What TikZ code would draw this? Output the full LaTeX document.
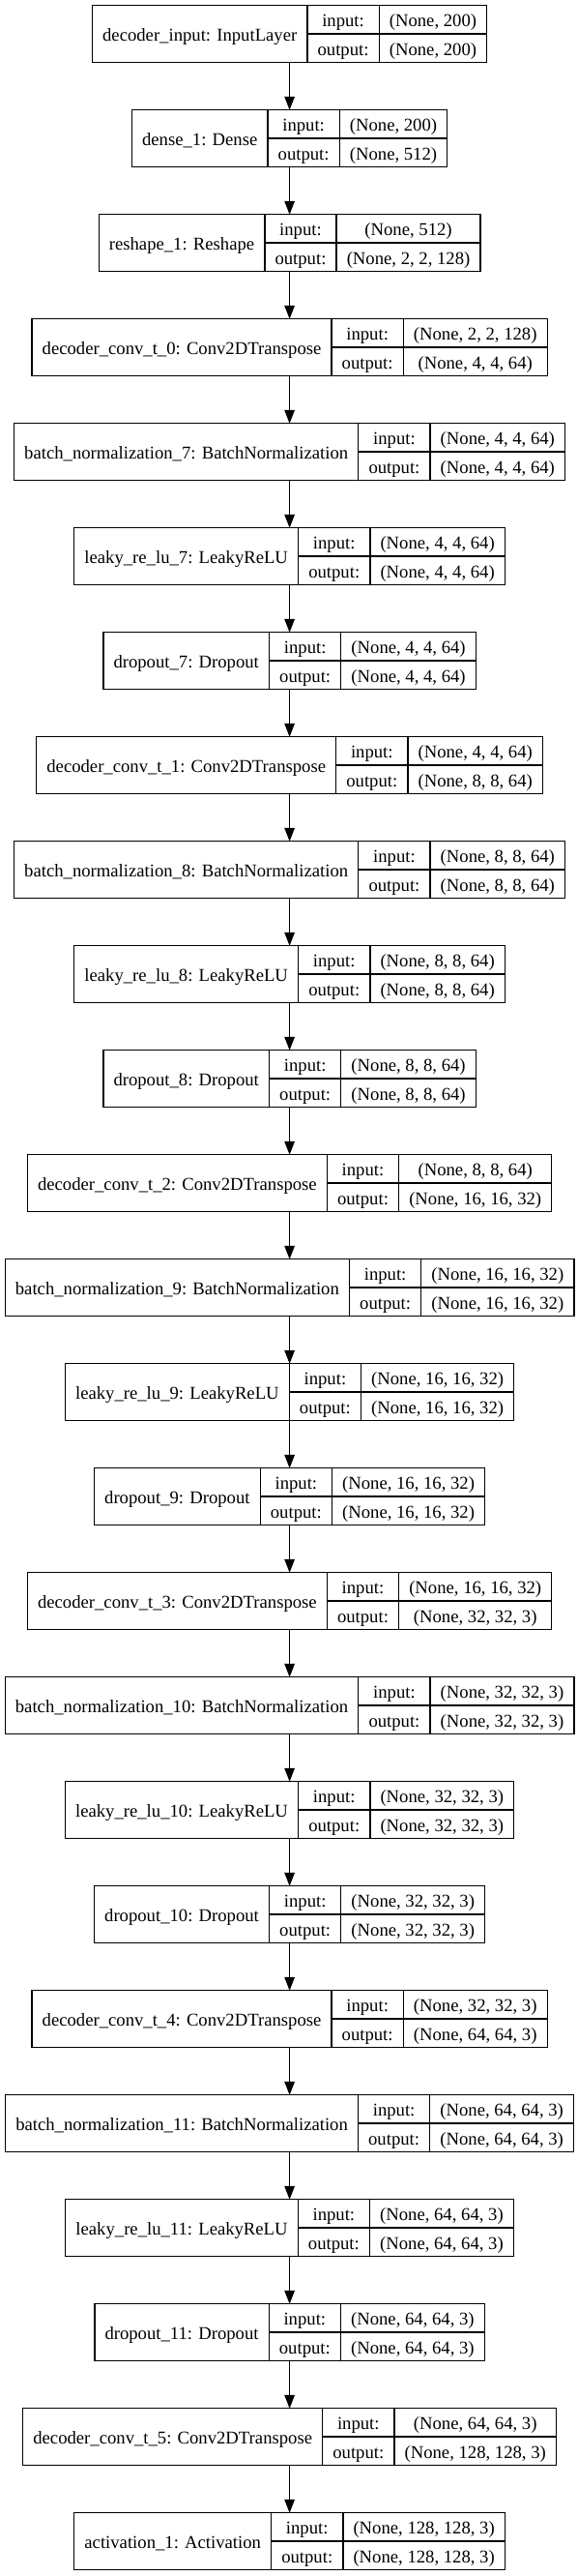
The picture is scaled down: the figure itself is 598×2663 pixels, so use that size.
\documentclass[tikz,border=0pt]{standalone}
\usepackage{fontspec}
\setmainfont{Liberation Serif}
\usepackage{tikz}
\usetikzlibrary{arrows.meta,positioning}

\newlength\lblw
\newlength\midw
\newlength\valw
\newlength\tmpw
\let\realselectfont\selectfont
\newcommand\cellfont{\fontsize{18.67bp}{22bp}\realselectfont}

\tikzset{
  layerbox/.style={anchor=north,inner sep=0pt,outer sep=0pt,minimum height=58.6bp},
  cellbox/.style={draw=black,line width=1.3bp,anchor=north west,inner sep=0pt,
                  outer sep=0pt,minimum height=29.3bp,text height=17bp,
                  text depth=2bp,font=\cellfont}
}

% text width, measured outside the picture's null font
\newcommand\getwidth[2]{%
  \pgfinterruptpicture\settowidth\tmpw{\cellfont #2}\global#1=\tmpw\endpgfinterruptpicture}

% one keras layer: name, top, label, input shape, output shape
\newcommand\layer[5]{%
  \getwidth\lblw{#3}\addtolength\lblw{21.33bp}%
  \getwidth\midw{output:}\addtolength\midw{21.33bp}%
  \getwidth\valw{#4}\getwidth\tmpw{#5}%
  \ifdim\tmpw>\valw\setlength\valw{\tmpw}\fi
  \addtolength\valw{21.33bp}%
  \node[layerbox,minimum width=\lblw+\midw+\valw] (#1) at (299.6,#2) {};
  \node[cellbox,minimum width=\lblw,minimum height=58.6bp] (#1-name) at (#1.north west) {#3};
  \node[cellbox,minimum width=\midw] (#1-inlbl) at (#1-name.north east) {input:};
  \node[cellbox,minimum width=\midw] (#1-outlbl) at (#1-inlbl.south west) {output:};
  \node[cellbox,minimum width=\valw] (#1-in) at (#1-inlbl.north east) {#4};
  \node[cellbox,minimum width=\valw] (#1-out) at (#1-in.south west) {#5};
}

\begin{document}
\begin{tikzpicture}[x=1bp,y=-1bp]
  \fill[white] (0,0) rectangle (598,2663);
  \useasboundingbox (0,0) rectangle (598,2663);

  \layer{input}{5.8}{decoder\_input: InputLayer}{(None, 200)}{(None, 200)}
  \layer{dense1}{113.8}{dense\_1: Dense}{(None, 200)}{(None, 512)}
  \layer{reshape1}{221.8}{reshape\_1: Reshape}{(None, 512)}{(None, 2, 2, 128)}
  \layer{convt0}{329.8}{decoder\_conv\_t\_0: Conv2DTranspose}{(None, 2, 2, 128)}{(None, 4, 4, 64)}
  \layer{bn7}{437.8}{batch\_normalization\_7: BatchNormalization}{(None, 4, 4, 64)}{(None, 4, 4, 64)}
  \layer{lrelu7}{545.8}{leaky\_re\_lu\_7: LeakyReLU}{(None, 4, 4, 64)}{(None, 4, 4, 64)}
  \layer{drop7}{653.8}{dropout\_7: Dropout}{(None, 4, 4, 64)}{(None, 4, 4, 64)}
  \layer{convt1}{761.8}{decoder\_conv\_t\_1: Conv2DTranspose}{(None, 4, 4, 64)}{(None, 8, 8, 64)}
  \layer{bn8}{869.8}{batch\_normalization\_8: BatchNormalization}{(None, 8, 8, 64)}{(None, 8, 8, 64)}
  \layer{lrelu8}{977.8}{leaky\_re\_lu\_8: LeakyReLU}{(None, 8, 8, 64)}{(None, 8, 8, 64)}
  \layer{drop8}{1085.8}{dropout\_8: Dropout}{(None, 8, 8, 64)}{(None, 8, 8, 64)}
  \layer{convt2}{1193.8}{decoder\_conv\_t\_2: Conv2DTranspose}{(None, 8, 8, 64)}{(None, 16, 16, 32)}
  \layer{bn9}{1301.8}{batch\_normalization\_9: BatchNormalization}{(None, 16, 16, 32)}{(None, 16, 16, 32)}
  \layer{lrelu9}{1409.8}{leaky\_re\_lu\_9: LeakyReLU}{(None, 16, 16, 32)}{(None, 16, 16, 32)}
  \layer{drop9}{1517.8}{dropout\_9: Dropout}{(None, 16, 16, 32)}{(None, 16, 16, 32)}
  \layer{convt3}{1625.8}{decoder\_conv\_t\_3: Conv2DTranspose}{(None, 16, 16, 32)}{(None, 32, 32, 3)}
  \layer{bn10}{1733.8}{batch\_normalization\_10: BatchNormalization}{(None, 32, 32, 3)}{(None, 32, 32, 3)}
  \layer{lrelu10}{1841.8}{leaky\_re\_lu\_10: LeakyReLU}{(None, 32, 32, 3)}{(None, 32, 32, 3)}
  \layer{drop10}{1949.8}{dropout\_10: Dropout}{(None, 32, 32, 3)}{(None, 32, 32, 3)}
  \layer{convt4}{2057.8}{decoder\_conv\_t\_4: Conv2DTranspose}{(None, 32, 32, 3)}{(None, 64, 64, 3)}
  \layer{bn11}{2165.8}{batch\_normalization\_11: BatchNormalization}{(None, 64, 64, 3)}{(None, 64, 64, 3)}
  \layer{lrelu11}{2273.8}{leaky\_re\_lu\_11: LeakyReLU}{(None, 64, 64, 3)}{(None, 64, 64, 3)}
  \layer{drop11}{2381.8}{dropout\_11: Dropout}{(None, 64, 64, 3)}{(None, 64, 64, 3)}
  \layer{convt5}{2489.8}{decoder\_conv\_t\_5: Conv2DTranspose}{(None, 64, 64, 3)}{(None, 128, 128, 3)}
  \layer{act1}{2597.8}{activation\_1: Activation}{(None, 128, 128, 3)}{(None, 128, 128, 3)}

  \begin{scope}[>={Triangle[length=14bp,width=10.5bp]},
                every edge/.style={draw=black,line width=1.3bp,->}]
    \path (input) edge (dense1);
    \path (dense1) edge (reshape1);
    \path (reshape1) edge (convt0);
    \path (convt0) edge (bn7);
    \path (bn7) edge (lrelu7);
    \path (lrelu7) edge (drop7);
    \path (drop7) edge (convt1);
    \path (convt1) edge (bn8);
    \path (bn8) edge (lrelu8);
    \path (lrelu8) edge (drop8);
    \path (drop8) edge (convt2);
    \path (convt2) edge (bn9);
    \path (bn9) edge (lrelu9);
    \path (lrelu9) edge (drop9);
    \path (drop9) edge (convt3);
    \path (convt3) edge (bn10);
    \path (bn10) edge (lrelu10);
    \path (lrelu10) edge (drop10);
    \path (drop10) edge (convt4);
    \path (convt4) edge (bn11);
    \path (bn11) edge (lrelu11);
    \path (lrelu11) edge (drop11);
    \path (drop11) edge (convt5);
    \path (convt5) edge (act1);
  \end{scope}
\end{tikzpicture}
\end{document}
